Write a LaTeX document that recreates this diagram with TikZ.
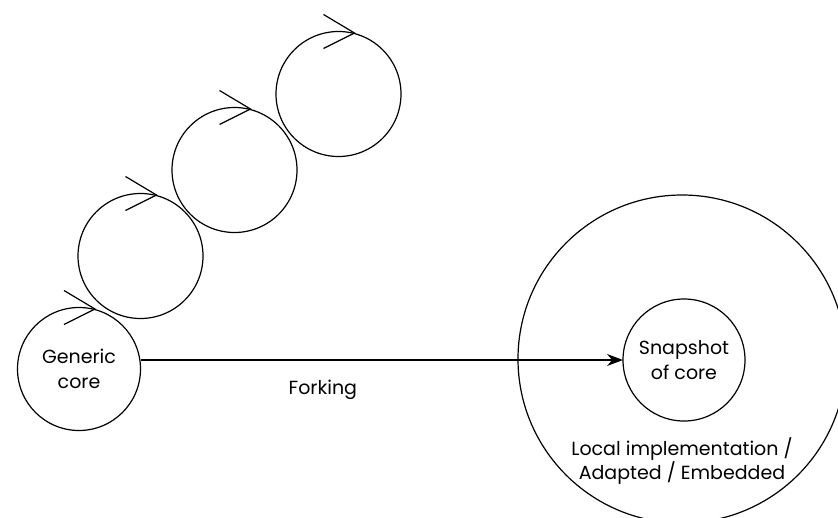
\documentclass[tikz,border=0pt]{standalone}
\usepackage{fontspec}
\setmainfont{Poppins}
\usetikzlibrary{arrows.meta,positioning}

\begin{document}
\begin{tikzpicture}[x=1pt,y=-1pt,line width=1.2pt,
    ring/.style={circle,draw,inner sep=0pt,outer sep=0pt,minimum size=125pt,
      align=center,font=\fontsize{19}{25}\selectfont}]
  \clip (0,0) rectangle (838,517);

  \node[ring,minimum size=328pt] (site) at (682,359) {};
  \node[ring,minimum size=122pt] (snap) at (684,360) {Snapshot\\of core};
  \node[align=center,font=\fontsize{19}{24}\selectfont] (where) at (682,461)
    {Local implementation /\\Adapted / Embedded};

  \node[ring,minimum size=123pt] (core) at (79,369) {Generic\\core};
  \node[ring] (loopa) at (140.5,256) {};
  \node[ring] (loopb) at (234.5,170) {};
  \node[ring] (loopc) at (338.5,94) {};

  \foreach \n in {core,loopa,loopb,loopc}
    \draw ([shift={(-15,-17)}]\n.north) -- ([shift={(16,1.5)}]\n.north)
      -- ([shift={(-15,17)}]\n.north);

  \draw[-{Stealth[length=16pt,width=12pt]}] (core.east |- snap.west) -- (snap.west)
    node[pos=0.378,yshift=-30pt,font=\fontsize{19}{25}\selectfont] (fork) {Forking};
\end{tikzpicture}
\end{document}
